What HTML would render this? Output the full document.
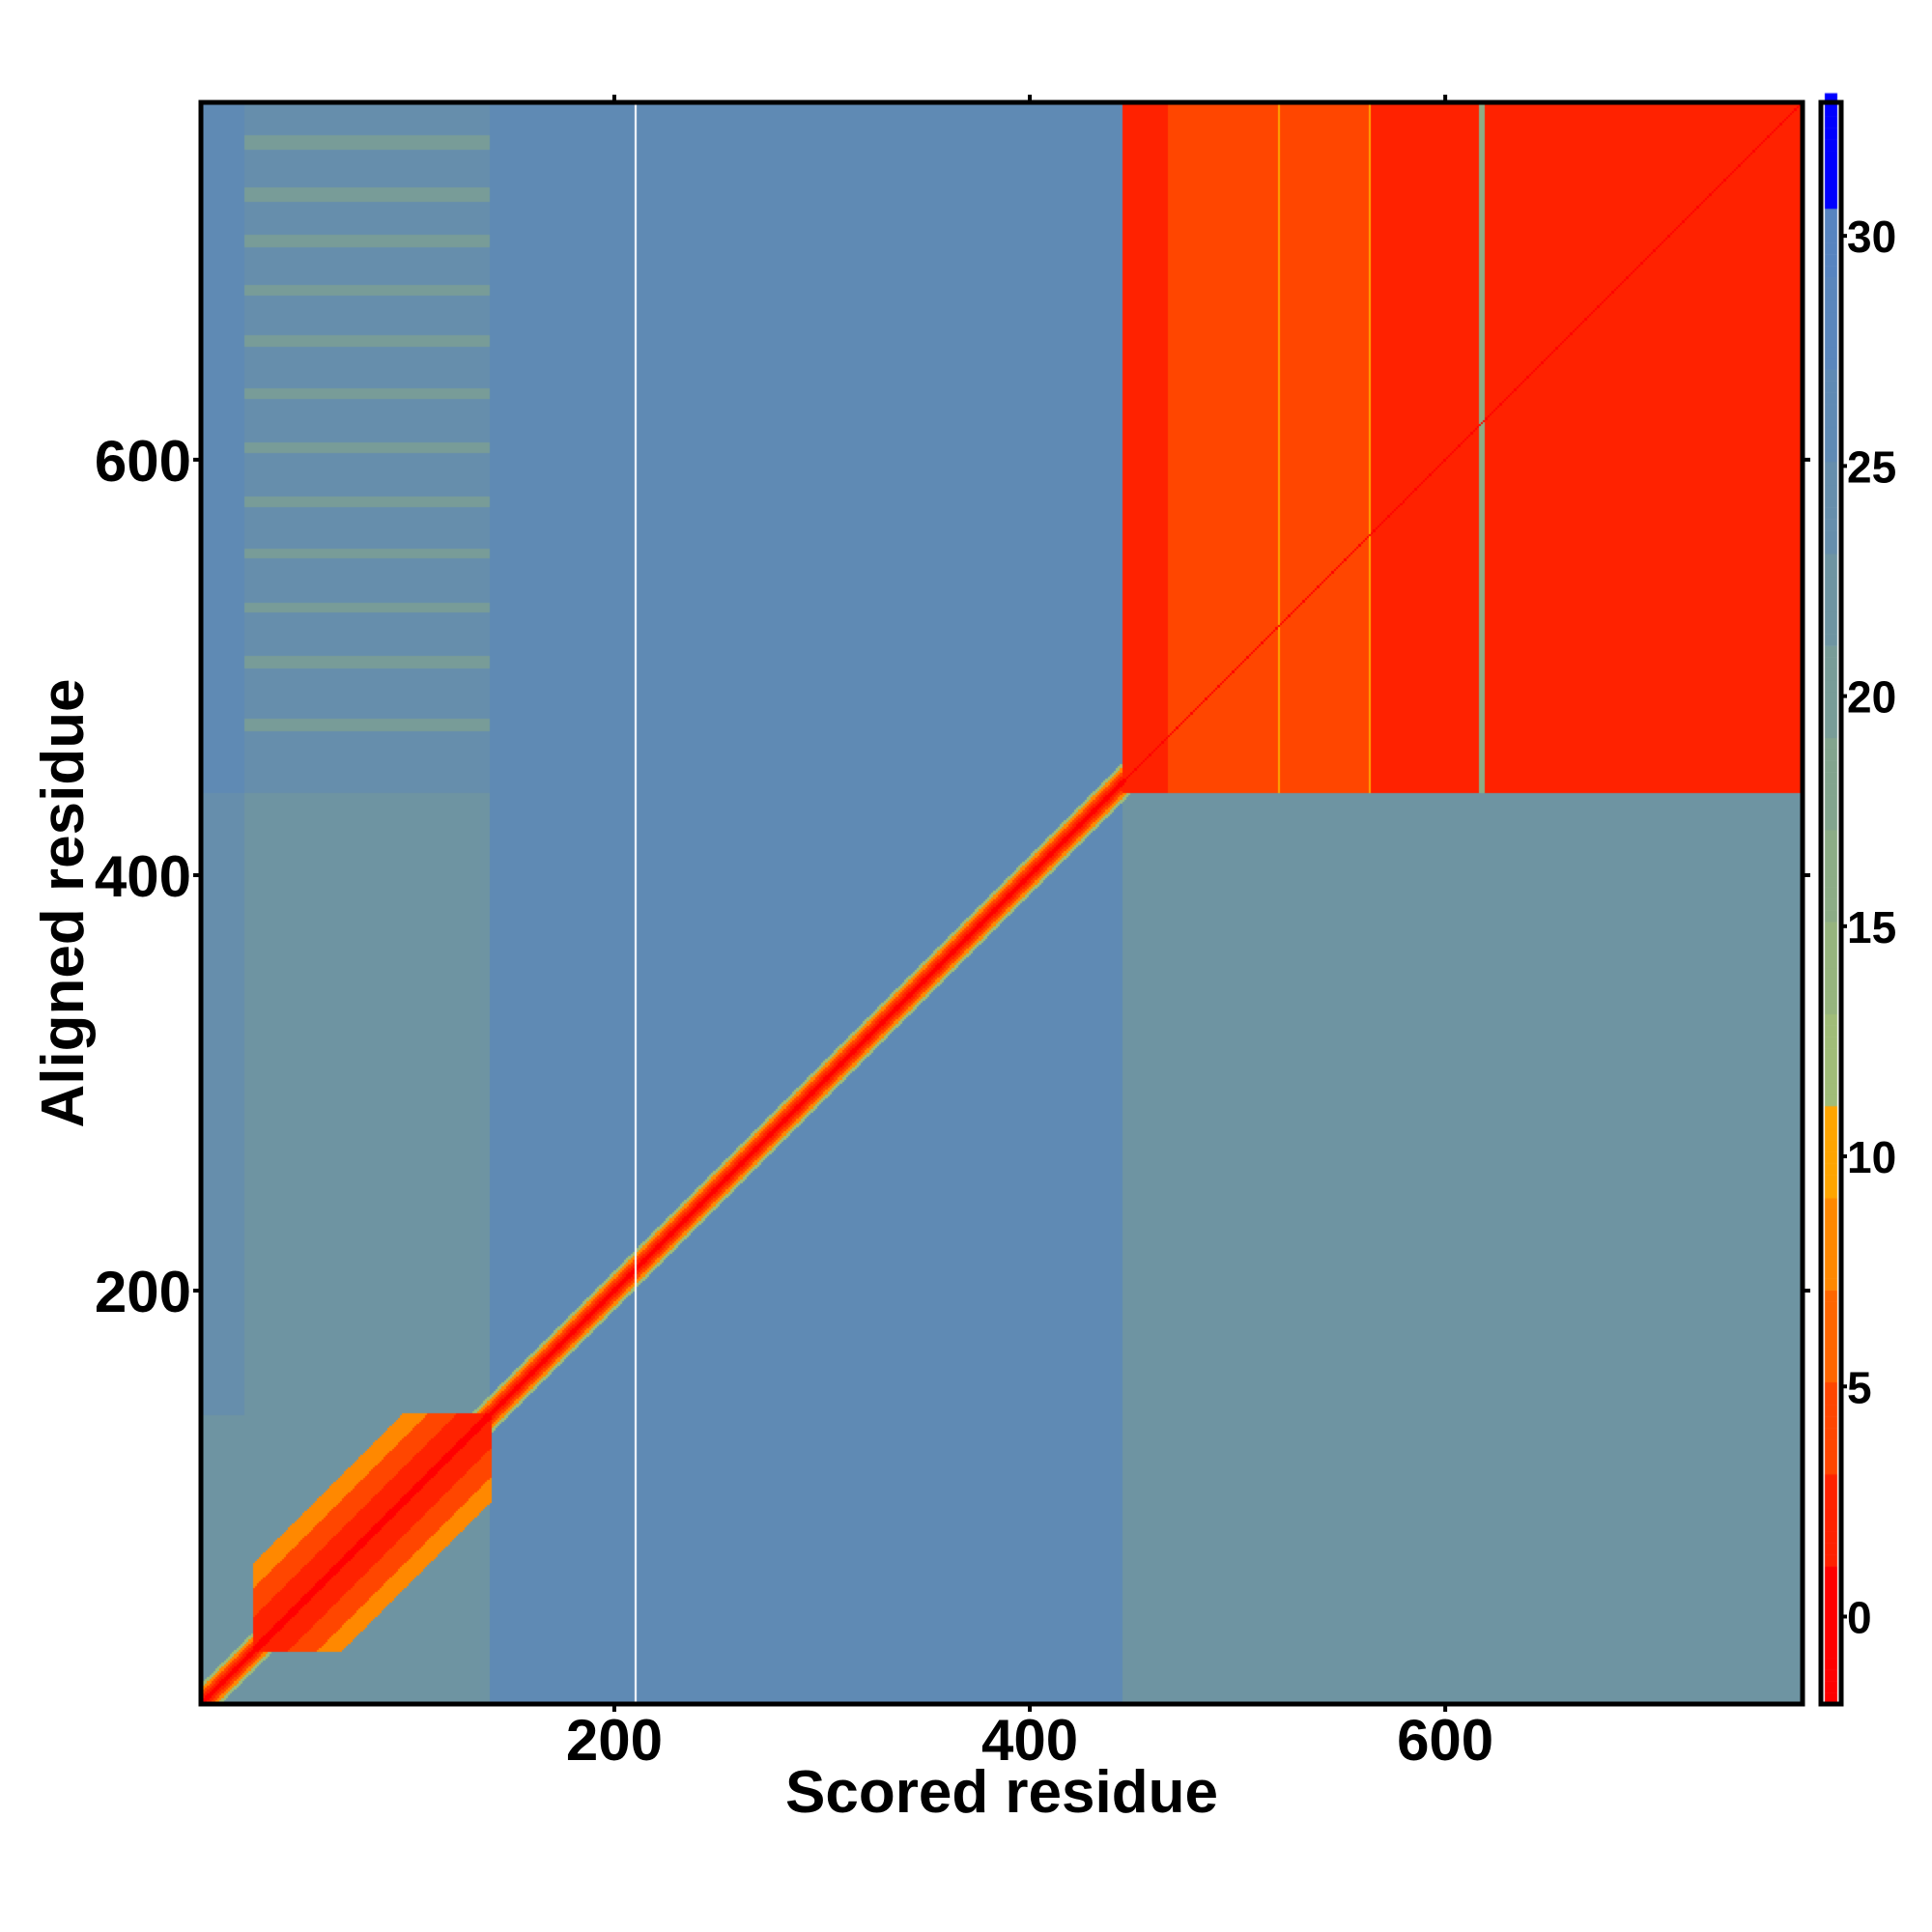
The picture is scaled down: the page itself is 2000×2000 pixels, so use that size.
<!DOCTYPE html>
<html><head><meta charset="utf-8">
<style>
html,body{margin:0;padding:0;background:#fff;width:2000px;height:2000px;overflow:hidden}
#wrap{position:relative;width:2000px;height:2000px}
canvas{position:absolute;left:0;top:0}
svg{position:absolute;left:0;top:0}
text{font-family:"Liberation Sans",sans-serif;font-weight:bold;fill:#000}
</style></head>
<body>
<div id="wrap">
<canvas id="hm" width="2000" height="2000"></canvas>
<svg id="ax" width="2000" height="2000"></svg>
</div>
<script>
// ---- data ----
const N = 772;
const xTicks = [200, 400, 600];
const yTicks = [200, 400, 600];
const cbTicks = [0, 5, 10, 15, 20, 25, 30];
const cbRange = [-1.9, 32.9];
// block structure (residue breaks) and block values (rows bottom->top, cols left->right)
const colBreaks = [1, 22, 140, 445, 773];
const rowBreaks = [1, 22, 140, 440, 773];
const blockValues = [
  [23, 21.5, 26, 23],
  [23, 21.5, 26, 23],
  [24, 22, 27, 23],
  [25.5, 24, 26.5, 2]
];
// horizontal stripes in upper-left region (row start, row end, value)
const stripeRows = [[750,756,20],[725,731,20],[703,708,20],[680,684,21],[655,660,20],[630,634,21],[604,608,20],[578,582,21],[553,557,20],[527,531,21],[500,505,21],[470,475,21]];
// column bands in red block (col start, col end, value)
const redCols = [[467,519,3.5],[520,521,9.5],[521,563,3.5],[564,565,9.5],[565,616,2.5],[617,619,16]];
// diagonal band: |x-y| offsets and values
const diagOffsets = [1, 3, 5, 7, 9];
const diagValues = [0, 2, 5, 9, 12];
// N-terminal cluster: offsets and values
const clusterRange = [26, 140];
const clusterOffsets = [2, 16, 30, 42];
const clusterValues = [0, 2, 5, 9];
const whiteCols = [210];
// colour scale steps (lower bound value, colour)
const stepBounds = [-99, 1.2, 3.2, 5.2, 7.2, 9.2, 11.2, 13.2, 15.2, 17.2, 19.2, 21.2, 23.2, 25.2, 27.2, 29.2, 30.7];
const stepColors = ['#ff0000','#ff2200','#ff4600','#ff6600','#ff8800','#ffa500','#a0bc78','#96b47e','#8cac86','#82a48e','#789c98','#6e94a2','#668eac','#5f8ab4','#5a86bc','#5784c0','#0000ff'];

// ---- geometry ----
const PL = 208, PR = 1866, PT = 106, PB = 1764;
const sx = r => PL + (r - 1) / (N - 1) * (PR - PL);
const sy = r => PB - (r - 1) / (N - 1) * (PB - PT);
const CBX0 = 1889, CBX1 = 1902;
const cy = v => PB - (v - cbRange[0]) / (cbRange[1] - cbRange[0]) * (PB - PT);

function colorFor(v){
  let c = stepColors[0];
  for (let i = 0; i < stepBounds.length; i++) if (v >= stepBounds[i]) c = stepColors[i];
  return c;
}
function hexRGB(h){return [parseInt(h.substr(1,2),16),parseInt(h.substr(3,2),16),parseInt(h.substr(5,2),16)];}
function idx(br, r){ for (let i=0;i<br.length-1;i++) if (r>=br[i] && r<br[i+1]) return i; return br.length-2; }

function valueAt(x, y){
  if (whiteCols.includes(x)) return null;
  const ci = idx(colBreaks, x), ri = idx(rowBreaks, y);
  let v = blockValues[ri][ci];
  if (ri === 3 && ci === 1) for (const s of stripeRows) if (y >= s[0] && y <= s[1]) v = s[2];
  if (ri === 3 && ci === 3) for (const c of redCols) if (x >= c[0] && x <= c[1]) v = c[2];
  const d = Math.abs(x - y);
  if (x >= clusterRange[0] && x <= clusterRange[1] && y >= clusterRange[0] && y <= clusterRange[1]) {
    for (let i = clusterOffsets.length - 1; i >= 0; i--) if (d <= clusterOffsets[i]) v = Math.min(v, clusterValues[i]);
  }
  if (x <= 445 || y <= 445) {
    for (let i = diagOffsets.length - 1; i >= 0; i--) if (d <= diagOffsets[i]) v = Math.min(v, diagValues[i]);
  }
  if (d < 1) v = Math.min(v, diagValues[0]);
  return v;
}

// ---- draw heatmap ----
const cv = document.getElementById('hm');
const ctx = cv.getContext('2d');
const off = document.createElement('canvas');
off.width = N; off.height = N;
const octx = off.getContext('2d');
const img = octx.createImageData(N, N);
for (let y = 1; y <= N; y++) {
  for (let x = 1; x <= N; x++) {
    const v = valueAt(x, y);
    const rgb = v === null ? [255,255,255] : hexRGB(colorFor(v));
    const p = ((N - y) * N + (x - 1)) * 4;
    img.data[p] = rgb[0]; img.data[p+1] = rgb[1]; img.data[p+2] = rgb[2]; img.data[p+3] = 255;
  }
}
octx.putImageData(img, 0, 0);
ctx.imageSmoothingEnabled = false;
ctx.drawImage(off, PL, PT, PR - PL, PB - PT);
// colour bar
const cbStep = 0.25;
for (let v = cbRange[0]; v < cbRange[1]; v += cbStep) {
  ctx.fillStyle = colorFor(v + cbStep/2);
  ctx.fillRect(CBX0, cy(v + cbStep) , CBX1 - CBX0, cy(v) - cy(v + cbStep) + 0.6);
}

// ---- axes (svg) ----
const NS = 'http://www.w3.org/2000/svg';
const svg = document.getElementById('ax');
function el(tag, attrs, txt){
  const e = document.createElementNS(NS, tag);
  for (const k in attrs) e.setAttribute(k, attrs[k]);
  if (txt !== undefined) e.textContent = txt;
  svg.appendChild(e); return e;
}
let e;
e = el('rect', {x:PL, y:PT, width:PR-PL, height:PB-PT, fill:'none', stroke:'#000', 'stroke-width':5});


e = el('rect', {x:(CBX0+CBX1)/2-10.5, y:PT, width:21, height:PB-PT, fill:'none', stroke:'#000', 'stroke-width':5});


for (const t of xTicks) {
  e = el('line', {x1:sx(t), x2:sx(t), y1:PT, y2:PT-8, stroke:'#000', 'stroke-width':4});
  
  
  e = el('line', {x1:sx(t), x2:sx(t), y1:PB, y2:PB+8, stroke:'#000', 'stroke-width':4});
  
  
  e = el('text', {x:sx(t), y:1822, 'font-size':60, 'text-anchor':'middle'}, String(t));
  
  
}
for (const t of yTicks) {
  e = el('line', {x1:PL, x2:PL-8, y1:sy(t), y2:sy(t), stroke:'#000', 'stroke-width':4});
  
  
  e = el('line', {x1:PR, x2:PR+8, y1:sy(t), y2:sy(t), stroke:'#000', 'stroke-width':4});
  
  
  e = el('text', {x:198, y:sy(t)+22, 'font-size':60, 'text-anchor':'end'}, String(t));
  
  
}
for (const t of cbTicks) {
  e = el('line', {x1:1904, x2:1912, y1:cy(t), y2:cy(t), stroke:'#000', 'stroke-width':4});
  
  
  e = el('text', {x:1912, y:cy(t)+17, 'font-size':46, 'text-anchor':'start'}, String(t));
  
  
}
e = el('text', {x:1037, y:1876, 'font-size':62, 'text-anchor':'middle'}, 'Scored residue');


e = el('text', {x:0, y:0, 'font-size':62, 'text-anchor':'middle', transform:'translate(86,935) rotate(-90)'}, 'Aligned residue');


</script>
</body></html>
